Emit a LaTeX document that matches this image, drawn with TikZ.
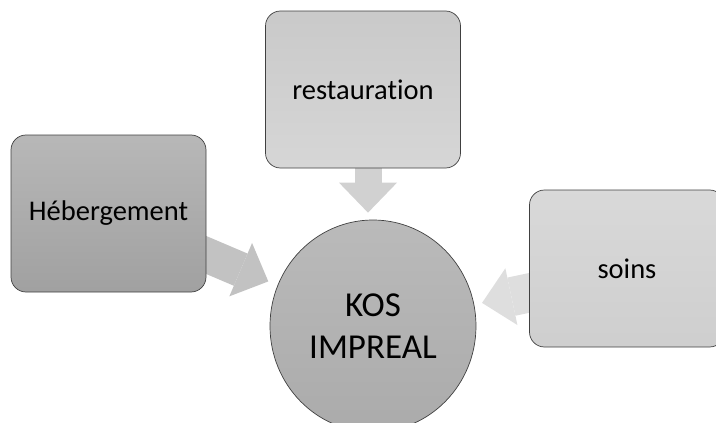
\documentclass[tikz,border=0pt]{standalone}
\usepackage{fontspec}
\setmainfont{Carlito}[Ligatures=NoCommon]
\usepackage{tikz}
\usetikzlibrary{arrows.meta, shapes.geometric, backgrounds}

\begin{document}
\begin{tikzpicture}[x=1pt, y=-1pt,
		box/.style={rectangle, rounded corners=15pt, minimum width=195pt, minimum height=157pt,
			draw=black!75, line width=0.7pt, inner sep=0pt, font=\fontsize{28.5}{34}\selectfont},
		flow/.style={line width=#1, -{Triangle[width=58pt, length=30pt, line width=0pt]}, shorten <=-12pt}]
			\useasboundingbox (0,0) rectangle (716,423);
			\clip (0,0) rectangle (716,423);
			\node (heb) [box, top color=black!28, bottom color=black!37] at (108.5,213.5) {Hébergement};
			\node (resto) [box, top color=black!21, bottom color=black!16] at (363,89.5) {restauration};
			\node (soins) [box, top color=black!15, bottom color=black!19] at (627,268.5) {soins};
			\node (kos) [ellipse, minimum width=206pt, minimum height=212pt, draw=black!75, line width=0.7pt,
				top color=black!27, bottom color=black!33, align=center,
				font=\fontsize{35}{42}\selectfont] at (373,326) {KOS\\IMPREAL};
			\begin{pgfonlayer}{background}
				\draw [flow=35pt, black!24, shorten >=10pt] (heb.-23) -- (kos);
				\draw [flow=27pt, black!18, shorten >=7pt] ([xshift=5pt]resto.south) -- ([xshift=-5pt]kos.north);
				\draw [flow=39pt, black!13, shorten >=8pt] (soins.-166) -- (kos);
			\end{pgfonlayer}
		\end{tikzpicture}
\end{document}
